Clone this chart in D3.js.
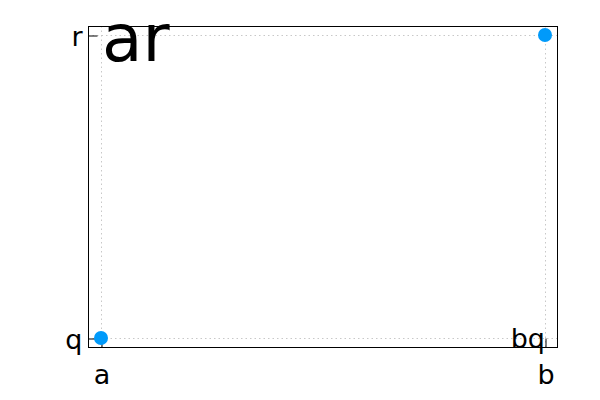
<!DOCTYPE html>
<html><head><meta charset="utf-8">
<script src="https://cdn.jsdelivr.net/npm/d3@7"></script>
<style>body{margin:0;background:#fff}svg{display:block}text{font-family:"DejaVu Sans",sans-serif}</style>
</head><body>
<svg id="c" width="600" height="400"></svg>
<script>
const xCats = ["a","b"];
const yCats = ["q","r"];
const pointsX = ["a","b"];
const pointsY = ["q","r"];
const annotations = [
  {x:"a", y:"r", text:"ar", size:66, anchor:"start"},
  {x:"b", y:"q", text:"bq", size:27, anchor:"end"}
];

const svg = d3.select("#c");
const L=88,R=557,T=26,B=347;
const x = d3.scalePoint().domain(xCats).range([101,545]);
const y = d3.scalePoint().domain(yCats).range([338,35]);

// grid
const g = svg.append("g");
g.selectAll(".gx").data(xCats).join("line")
  .attr("x1",d=>x(d)+0.5).attr("x2",d=>x(d)+0.5).attr("y1",T).attr("y2",B)
  .attr("stroke","#c8c8c8").attr("stroke-dasharray","1.5,3").attr("stroke-width",1);
g.selectAll(".gy").data(yCats).join("line")
  .attr("y1",d=>y(d)+0.5).attr("y2",d=>y(d)+0.5).attr("x1",L).attr("x2",R)
  .attr("stroke","#c8c8c8").attr("stroke-dasharray","1.5,3").attr("stroke-width",1);

// frame
svg.append("rect").attr("x",L+0.5).attr("y",T+0.5).attr("width",R-L).attr("height",B-T)
  .attr("fill","none").attr("stroke","#000").attr("stroke-width",1);

// axes with inward ticks
const xa = svg.append("g").attr("transform",`translate(0.5,${B+0.5})`)
  .call(d3.axisBottom(x).tickSize(-9).tickPadding(17));
const ya = svg.append("g").attr("transform",`translate(${L+0.5},0.5)`)
  .call(d3.axisLeft(y).tickSize(-9).tickPadding(6));
[xa,ya].forEach(a=>{
  a.select(".domain").remove();
  a.selectAll("line").attr("stroke","#000");
  a.selectAll("text").attr("font-size",27).attr("fill","#000").attr("font-family","DejaVu Sans");
});
xa.selectAll("text").attr("dy","0.71em");
ya.selectAll("text").attr("dy","0.36em");

// points
svg.selectAll(".pt").data(pointsX.map((d,i)=>({x:d,y:pointsY[i]}))).join("circle")
  .attr("cx",d=>x(d.x)).attr("cy",d=>y(d.y)).attr("r",7)
  .attr("fill","#009AFA");

// annotations
svg.selectAll(".ann").data(annotations).join("text")
  .attr("x",d=>x(d.x)+(d.anchor==="start"?1:0)).attr("y",d=>y(d.y))
  .attr("dy",d=>d.size>40?"0.4em":"0.36em")
  .attr("text-anchor",d=>d.anchor).attr("font-size",d=>d.size)
  .attr("fill","#000").text(d=>d.text);
</script>
</body></html>
